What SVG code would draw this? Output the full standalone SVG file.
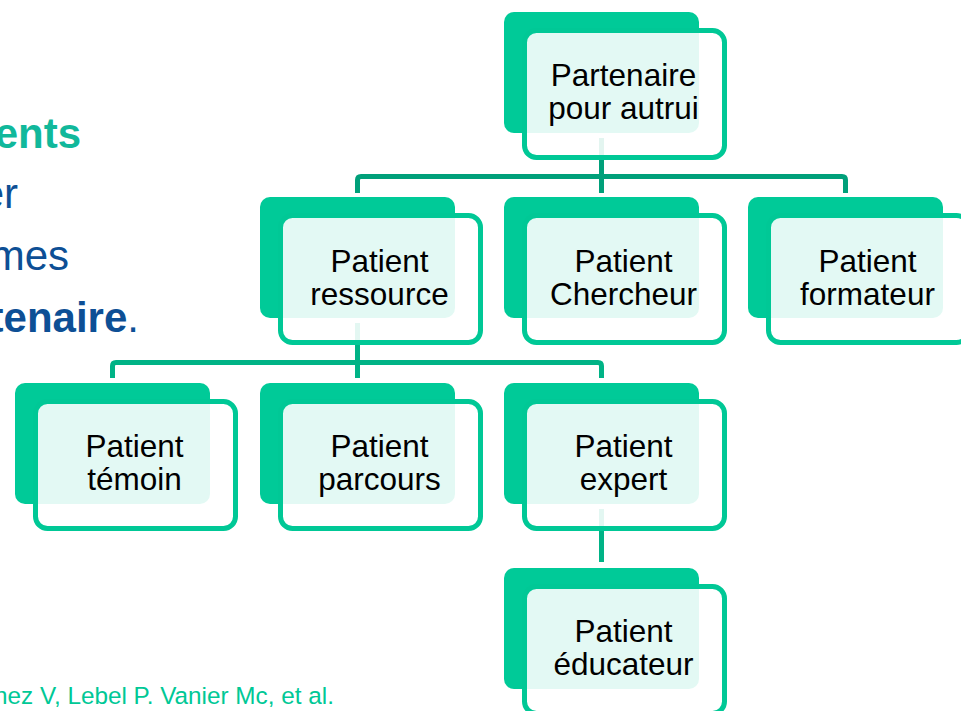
<svg xmlns="http://www.w3.org/2000/svg" width="961" height="711" viewBox="0 0 961 711">
<style>
.back{fill:#00CA98}
.front{fill:#FFFFFF;fill-opacity:0.89;stroke:#00C896;stroke-width:5}
.lbl{font-family:"Liberation Sans",Arial,sans-serif;font-size:31.5px;fill:#000;text-anchor:middle}
.c1{fill:none;stroke:#00A07A;stroke-width:5}
.c2{fill:none;stroke:#00B386;stroke-width:5}
.side{font-family:"Liberation Sans",Arial,sans-serif;font-size:42px;text-anchor:end}
</style>
<rect width="961" height="711" fill="#FFFFFF"/>
<g id="side-text">
<text class="side" x="81" y="148" fill="#11B89B" font-weight="bold">ents</text>
<text class="side" x="18" y="208" fill="#0D4F95">er</text>
<text class="side" x="69" y="270" fill="#0D4F95">mes</text>
<text class="side" x="139" y="332" fill="#0D4F95"><tspan font-weight="bold">tenaire</tspan>.</text>
<text x="-6" y="704" font-family="'Liberation Sans',Arial,sans-serif" font-size="24.3" fill="#00C896">nez V, Lebel P. Vanier Mc, et al.</text>
</g>
<g id="connectors">
<path class="c1" d="M357.5,193 V180 Q357.5,176.5 361,176.5 H842 Q845.5,176.5 845.5,180 V193"/>
<path class="c1" d="M601.5,138 V193"/>
<path class="c2" d="M112.5,378 V366 Q112.5,362.5 116,362.5 H598 Q601.5,362.5 601.5,366 V378"/>
<path class="c2" d="M357.5,323 V378"/>
<path class="c2" d="M601.5,509 V562"/>
</g>
<g id="node-partenaire">
<rect class="back" x="504" y="12" width="195" height="121" rx="10"/>
<rect class="front" x="524.5" y="30.5" width="200" height="127" rx="12"/>
<text class="lbl" x="623.5" y="86">Partenaire</text>
<text class="lbl" x="623.5" y="119">pour autrui</text>
</g>
<g id="node-ressource">
<rect class="back" x="260" y="197" width="195" height="121" rx="10"/>
<rect class="front" x="280.5" y="215.5" width="200" height="127" rx="12"/>
<text class="lbl" x="379.5" y="272">Patient</text>
<text class="lbl" x="379.5" y="305">ressource</text>
</g>
<g id="node-chercheur">
<rect class="back" x="504" y="197" width="195" height="121" rx="10"/>
<rect class="front" x="524.5" y="215.5" width="200" height="127" rx="12"/>
<text class="lbl" x="623.5" y="272">Patient</text>
<text class="lbl" x="623.5" y="305">Chercheur</text>
</g>
<g id="node-formateur">
<rect class="back" x="748" y="197" width="195" height="121" rx="10"/>
<rect class="front" x="768.5" y="215.5" width="200" height="127" rx="12"/>
<text class="lbl" x="867.5" y="272">Patient</text>
<text class="lbl" x="867.5" y="305">formateur</text>
</g>
<g id="node-temoin">
<rect class="back" x="15" y="383" width="195" height="121" rx="10"/>
<rect class="front" x="35.5" y="401.5" width="200" height="127" rx="12"/>
<text class="lbl" x="134.5" y="457">Patient</text>
<text class="lbl" x="134.5" y="490">témoin</text>
</g>
<g id="node-parcours">
<rect class="back" x="260" y="383" width="195" height="121" rx="10"/>
<rect class="front" x="280.5" y="401.5" width="200" height="127" rx="12"/>
<text class="lbl" x="379.5" y="457">Patient</text>
<text class="lbl" x="379.5" y="490">parcours</text>
</g>
<g id="node-expert">
<rect class="back" x="504" y="383" width="195" height="121" rx="10"/>
<rect class="front" x="524.5" y="401.5" width="200" height="127" rx="12"/>
<text class="lbl" x="623.5" y="457">Patient</text>
<text class="lbl" x="623.5" y="490">expert</text>
</g>
<g id="node-educateur">
<rect class="back" x="504" y="568" width="195" height="121" rx="10"/>
<rect class="front" x="524.5" y="586.5" width="200" height="127" rx="12"/>
<text class="lbl" x="623.5" y="642">Patient</text>
<text class="lbl" x="623.5" y="675">éducateur</text>
</g>
</svg>
